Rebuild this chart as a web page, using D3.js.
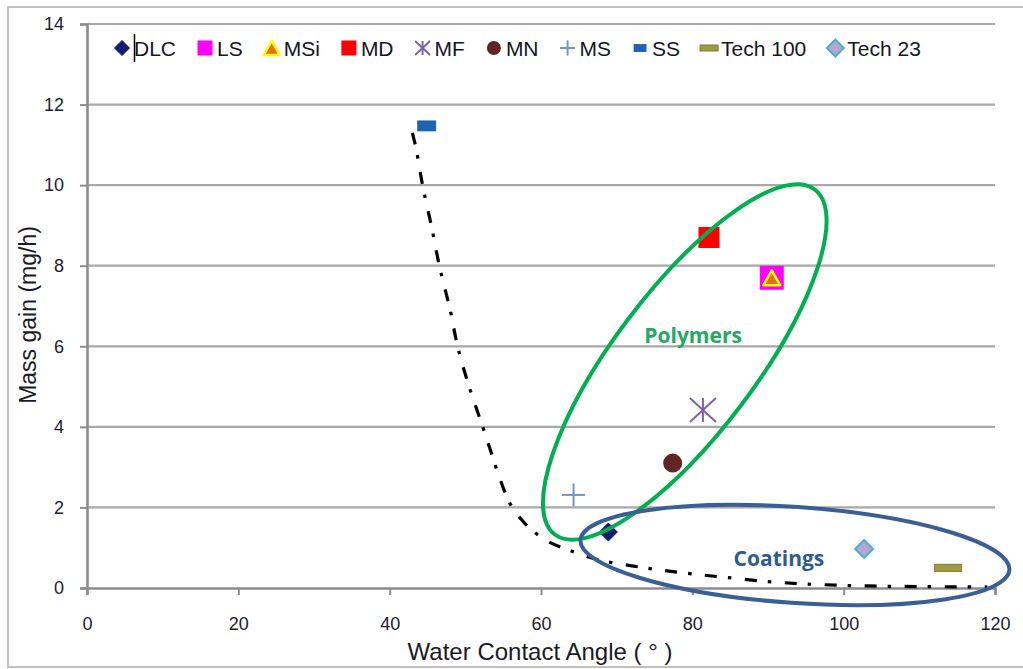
<!DOCTYPE html>
<html>
<head>
<meta charset="utf-8">
<script src="https://cdn.jsdelivr.net/npm/d3@7"></script>
<style>
  html, body { margin: 0; padding: 0; background: #ffffff; }
  svg { display: block; }
</style>
</head>
<body>
<svg id="chart" width="1023" height="669"></svg>
<script>
// ---------------- DATA ----------------
const categories  = ["DLC", "LS", "MSi", "MD", "MF", "MN", "MS", "SS", "Tech 100", "Tech 23"];
const angleValues = [68.9, 90.5, 90.5, 82.2, 81.4, 77.4, 64.3, 44.9, 113.8, 102.7];
const massValues  = [1.39, 7.70, 7.70, 8.70, 4.42, 3.10, 2.31, 11.47, 0.50, 0.97];

const xTickValues = [0, 20, 40, 60, 80, 100, 120];
const yTickValues = [0, 2, 4, 6, 8, 10, 12, 14];

// trend line (dash-dot)
const trendAngle = [43.0, 43.5, 44.4, 45.5, 46.6, 48.0, 49.0, 50.5, 52.3, 53.3, 54.5, 55.9, 57.5, 58.9, 60.8, 63.8, 67.8, 72.0, 75.7, 80.0, 84.6, 90.0, 95.0, 100.0, 105.0, 110.0, 115.0, 119.0];
const trendMass  = [11.30, 10.90, 9.95, 9.00, 7.97, 6.90, 5.98, 5.00, 4.00, 3.43, 2.75, 2.10, 1.68, 1.42, 1.17, 0.93, 0.69, 0.55, 0.45, 0.35, 0.26, 0.16, 0.10, 0.065, 0.045, 0.035, 0.03, 0.025];

// group annotations
const groupNames      = ["Polymers", "Coatings"];
const groupAngle      = [79.0, 93.56];
const groupMass       = [5.61, 0.82];
const groupLabelAngle = [80.1, 91.45];
const groupLabelMass  = [6.08, 0.546];

const xTitle = "Water Contact Angle ( ° )";
const yTitle = "Mass gain (mg/h)";

// ---------------- STYLE ----------------
const markerStyle = {
  "DLC":      { shape: "diamond",  w: 18, h: 18, lw: 15, lh: 15, fill: "#101d75", stroke: "#0a1560", sw: 1 },
  "LS":       { shape: "square",   w: 24, h: 24, lw: 15, lh: 15, fill: "#ff00ff", stroke: "none", sw: 0 },
  "MSi":      { shape: "triangle", w: 17, h: 15, lw: 16, lh: 14, fill: "#e2700c", stroke: "#ffff00", sw: 2.5 },
  "MD":       { shape: "square",   w: 21, h: 21, lw: 15, lh: 15, fill: "#ff0000", stroke: "none", sw: 0 },
  "MF":       { shape: "asterisk", w: 26, h: 24, lw: 15, lh: 14, fill: "none", stroke: "#8062aa", sw: 2 },
  "MN":       { shape: "circle",   w: 19, h: 19, lw: 14, lh: 14, fill: "#632523", stroke: "none", sw: 0 },
  "MS":       { shape: "plus",     w: 23, h: 23, lw: 15, lh: 15, fill: "none", stroke: "#7393cf", sw: 2 },
  "SS":       { shape: "rect",     w: 18, h: 10, lw: 12, lh: 7,  fill: "#1f63b5", stroke: "#1a55a0", sw: 0.8 },
  "Tech 100": { shape: "rect",     w: 27, h: 7,  lw: 18, lh: 6,  fill: "#a09b45", stroke: "#7f7a2e", sw: 1 },
  "Tech 23":  { shape: "diamond",  w: 18, h: 18, lw: 17, lh: 17, fill: "#b5a6d4", stroke: "#4cb1cc", sw: 2 }
};
const groupStyle = [
  { stroke: "#00b050", a: 216, b: 71, rot: -53, text: "#25a862" },
  { stroke: "#3a5f92", a: 215, b: 48, rot: 4,   text: "#2d5b94" }
];

// ---------------- DRAW ----------------
const svg = d3.select("#chart");
const x = d3.scaleLinear().domain([0, 120]).range([87, 995]);
const y = d3.scaleLinear().domain([0, 14]).range([588, 24]);

// outer chart border
svg.append("rect").attr("x", 8).attr("y", 7).attr("width", 1030).attr("height", 660)
  .attr("fill", "#ffffff").attr("stroke", "#c0c0c0").attr("stroke-width", 2);

// gridlines
svg.append("g").selectAll("line").data(yTickValues.filter(v => v > 0)).join("line")
  .attr("x1", x(0)).attr("x2", x(120))
  .attr("y1", d => y(d)).attr("y2", d => y(d))
  .attr("stroke", "#a8a8a8").attr("stroke-width", 2.2);

// y axis
const yAxis = d3.axisLeft(y).tickValues(yTickValues).tickSize(7).tickPadding(16).tickFormat(d3.format("d"));
const gy = svg.append("g").attr("transform", `translate(${x(0)},0)`).call(yAxis);
gy.select(".domain").attr("stroke", "#8c8c8c").attr("stroke-width", 2.6);
gy.selectAll(".tick line").attr("stroke", "#8c8c8c").attr("stroke-width", 2);
gy.selectAll(".tick text").attr("font-family", "'Liberation Sans', Arial, sans-serif")
  .attr("font-size", 18).attr("fill", "#202030");

// x axis
const xAxis = d3.axisBottom(x).tickValues(xTickValues).tickSize(7).tickPadding(22).tickFormat(d3.format("d"));
const gx = svg.append("g").attr("transform", `translate(0,${y(0)})`).call(xAxis);
gx.select(".domain").attr("stroke", "#8c8c8c").attr("stroke-width", 2.6);
gx.selectAll(".tick line").attr("stroke", "#8c8c8c").attr("stroke-width", 2);
gx.selectAll(".tick text").attr("font-family", "'Liberation Sans', Arial, sans-serif")
  .attr("font-size", 18).attr("fill", "#202030");

// axis titles
svg.append("text").attr("x", 540).attr("y", 660).attr("text-anchor", "middle")
  .attr("font-family", "'Liberation Sans', Arial, sans-serif").attr("font-size", 24)
  .attr("fill", "#1a1a24").text(xTitle);
svg.append("text").attr("transform", "translate(36,315) rotate(-90)").attr("text-anchor", "middle")
  .attr("font-family", "'Liberation Sans', Arial, sans-serif").attr("font-size", 23)
  .attr("fill", "#1a1a24").text(yTitle);

// trend line
const trendData = trendAngle.map((a, i) => [a, trendMass[i]]);
svg.append("path").datum(trendData)
  .attr("d", d3.line().x(d => x(d[0])).y(d => y(d[1])).curve(d3.curveCatmullRom))
  .attr("fill", "none").attr("stroke", "#000000").attr("stroke-width", 3.2)
  .attr("stroke-dasharray", "12,11,3.5,13.5");

// marker drawing
function drawMarker(g, st, w, h) {
  if (st.shape === "diamond") {
    g.append("path").attr("d", `M0,${-h/2}L${w/2},0L0,${h/2}L${-w/2},0Z`)
      .attr("fill", st.fill).attr("stroke", st.stroke).attr("stroke-width", st.sw);
  } else if (st.shape === "square" || st.shape === "rect") {
    g.append("rect").attr("x", -w/2).attr("y", -h/2).attr("width", w).attr("height", h)
      .attr("fill", st.fill).attr("stroke", st.stroke).attr("stroke-width", st.sw);
  } else if (st.shape === "triangle") {
    g.append("path").attr("d", `M0,${-h/2}L${w/2},${h/2}L${-w/2},${h/2}Z`)
      .attr("fill", st.fill).attr("stroke", st.stroke).attr("stroke-width", st.sw)
      .attr("stroke-linejoin", "round");
  } else if (st.shape === "circle") {
    g.append("circle").attr("r", w/2).attr("fill", st.fill);
  } else if (st.shape === "asterisk") {
    const segs = [[-w/2,-h/2,w/2,h/2],[w/2,-h/2,-w/2,h/2],[0,-h/2,0,h/2]];
    segs.forEach(s => g.append("line").attr("x1", s[0]).attr("y1", s[1]).attr("x2", s[2]).attr("y2", s[3])
      .attr("stroke", st.stroke).attr("stroke-width", st.sw));
  } else if (st.shape === "plus") {
    const segs = [[-w/2,0,w/2,0],[0,-h/2,0,h/2]];
    segs.forEach(s => g.append("line").attr("x1", s[0]).attr("y1", s[1]).attr("x2", s[2]).attr("y2", s[3])
      .attr("stroke", st.stroke).attr("stroke-width", st.sw));
  }
}

// data markers
const points = categories.map((c, i) => ({ name: c, a: angleValues[i], m: massValues[i] }));
const gPts = svg.append("g");
points.forEach(p => {
  const st = markerStyle[p.name];
  const g = gPts.append("g").attr("transform", `translate(${x(p.a)},${y(p.m)})`);
  drawMarker(g, st, st.w, st.h);
});

// group ellipses
groupNames.forEach((n, i) => {
  const gs = groupStyle[i];
  svg.append("ellipse")
    .attr("transform", `translate(${x(groupAngle[i])},${y(groupMass[i])}) rotate(${gs.rot})`)
    .attr("rx", gs.a).attr("ry", gs.b)
    .attr("fill", "none").attr("stroke", gs.stroke).attr("stroke-width", 4);
  svg.append("text").attr("x", x(groupLabelAngle[i])).attr("y", y(groupLabelMass[i]))
    .attr("text-anchor", "middle").attr("font-family", "'Open Sans', sans-serif")
    .attr("font-weight", "bold").attr("font-size", 21).attr("fill", gs.text).text(n);
});

// legend
const legend = svg.append("g");
let cx = 122;
const ly = 48;
categories.forEach((c, i) => {
  const st = markerStyle[c];
  const g = legend.append("g").attr("transform", `translate(${cx},${ly})`);
  drawMarker(g, st, st.lw, st.lh);
  const t = legend.append("text").attr("x", cx + 12).attr("y", ly).attr("dy", "0.36em")
    .attr("font-family", "'Liberation Sans', Arial, sans-serif").attr("font-size", 21)
    .attr("fill", "#15151f").text(c);
  const tw = t.node().getComputedTextLength();
  cx = cx + 12 + tw + 29;
});
// text cursor seen in the picture
legend.append("line").attr("x1", 134.5).attr("x2", 134.5).attr("y1", 34).attr("y2", 62)
  .attr("stroke", "#000").attr("stroke-width", 1.5);
</script>
</body>
</html>
